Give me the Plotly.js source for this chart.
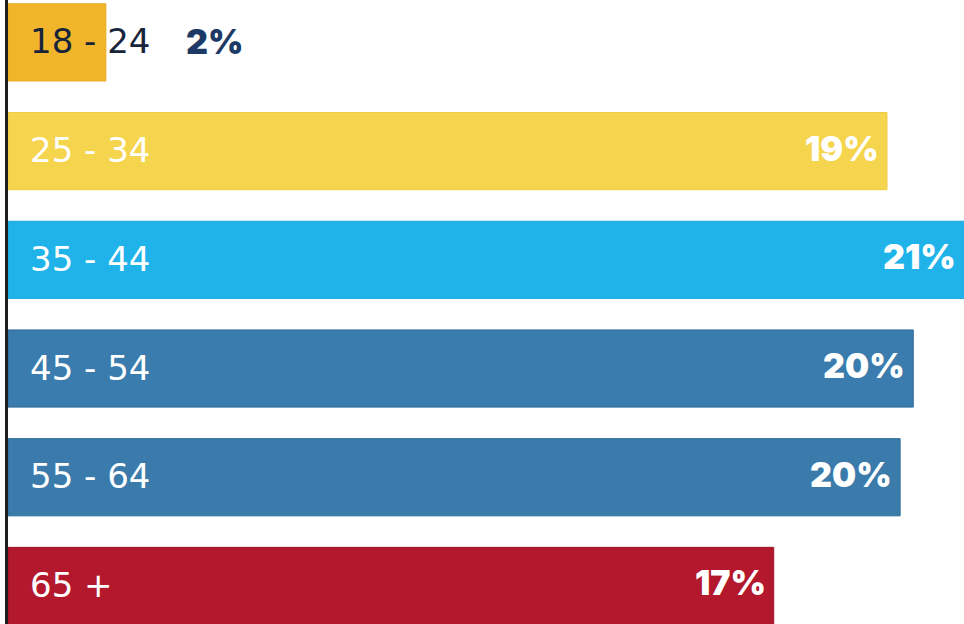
<!DOCTYPE html>
<html>
<head>
<meta charset="utf-8">
<script src="https://cdn.plot.ly/plotly-3.0.1.min.js"></script>
<style>html,body{margin:0;padding:0;background:#fff;}#chart{width:964px;height:624px;}</style>
</head>
<body>
<div id="chart"></div>
<script>
// Age groups (top to bottom)
const categories = ["18 - 24", "25 - 34", "35 - 44", "45 - 54", "55 - 64", "65 +"];
// Bar lengths (percent)
const values = [2.16, 19.4, 21.2, 19.98, 19.69, 16.9];
// Printed value labels
const valueLabels = ["2%", "19%", "21%", "20%", "20%", "17%"];
const barColors = ["#F1B52C", "#F5D54E", "#1FB3EA", "#3A7CAD", "#3B7BAB", "#B4182C"];
const outlineColors = ["#E9AC20", "#F0CC40", "#19A8DE", "#2C6A99", "#2C6A99", "#9E1224"];
const catLabelColors = ["#18243A", "#FFFFFF", "#FFFFFF", "#FFFFFF", "#FFFFFF", "#FFFFFF"];
const valLabelColors = ["#1D3A66", "#FFFFFF", "#FFFFFF", "#FFFFFF", "#FFFFFF", "#FFFFFF"];

const xMax = 21.1;

const trace = {
  type: "bar",
  orientation: "h",
  y: categories,
  x: values,
  marker: {color: barColors, line: {color: outlineColors, width: 1}},
  hoverinfo: "skip"
};

const annotations = [];
categories.forEach((c, i) => {
  annotations.push({
    x: 0, y: c, xref: "x", yref: "y",
    text: c, showarrow: false, xanchor: "left", yanchor: "middle",
    xshift: 20, yshift: 1,
    font: {family: "DejaVu Sans, sans-serif", size: 34, color: catLabelColors[i]}
  });
  const inside = i !== 0;
  annotations.push({
    x: Math.min(values[i], xMax), y: c, xref: "x", yref: "y",
    text: valueLabels[i], showarrow: false,
    xanchor: inside ? "right" : "left", yanchor: "middle",
    xshift: inside ? -6 : 78, yshift: inside ? 3 : 1,
    font: {family: "Inter, Open Sans, sans-serif", size: 34, color: valLabelColors[i], weight: 900}
  });
});

const layout = {
  width: 964, height: 624,
  margin: {l: 8, r: 0, t: 0, b: 0, pad: 0},
  paper_bgcolor: "#FFFFFF", plot_bgcolor: "#FFFFFF",
  bargap: 0.29,
  showlegend: false,
  xaxis: {range: [0, xMax], showgrid: false, zeroline: false, showticklabels: false, showline: false, fixedrange: true},
  yaxis: {type: "category", range: [5.35, -0.39], showgrid: false, zeroline: false, showticklabels: false,
          showline: true, linecolor: "#1E1E1E", linewidth: 3, fixedrange: true},
  annotations: annotations
};

Plotly.newPlot("chart", [trace], layout, {staticPlot: true, displayModeBar: false});
</script>
</body>
</html>
